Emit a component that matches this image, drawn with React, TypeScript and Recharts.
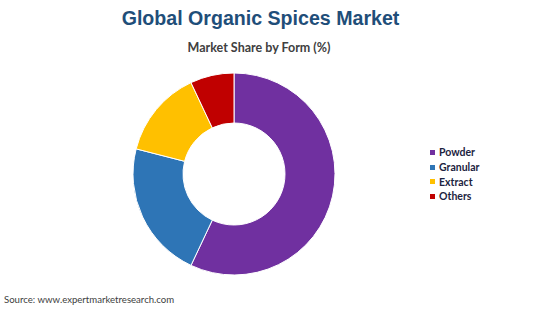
import { Cell, Pie, PieChart } from 'recharts';

const forms = ['Powder', 'Granular', 'Extract', 'Others'];
const shares = [57, 22, 14, 7];
const colors = ['#7030A0', '#2E75B6', '#FFC000', '#C00000'];

const data = forms.map((name, i) => ({ name, value: shares[i] }));

function LegendList() {
  return (
    <div
      style={{
        position: 'absolute',
        left: 430,
        top: 145,
        fontFamily: 'Lato, "Open Sans", sans-serif',
        fontWeight: 700,
        fontSize: 10.5,
        color: '#1c2340',
      }}
    >
      {forms.map((f, i) => (
        <div key={f} style={{ display: 'flex', alignItems: 'center', height: 14.7 }}>
          <span style={{ width: 5, height: 5, background: colors[i], marginRight: 4, display: 'inline-block' }} />
          {f}
        </div>
      ))}
    </div>
  );
}

export default function App() {
  return (
    <div style={{ position: 'absolute', left: 0, top: 0, width: 550, height: 309, background: '#fff' }}>
      <div
        style={{
          position: 'absolute',
          top: 7,
          width: 521,
          textAlign: 'center',
          fontFamily: '"Liberation Sans", Arial, sans-serif',
          fontWeight: 700,
          fontSize: 19.6,
          color: '#1F4E79',
        }}
      >
        Global Organic Spices Market
      </div>
      <div
        style={{
          position: 'absolute',
          top: 40,
          width: 518,
          textAlign: 'center',
          fontFamily: 'Lato, "Open Sans", sans-serif',
          fontWeight: 700,
          fontSize: 12.5,
          color: '#404040',
        }}
      >
        Market Share by Form (%)
      </div>
      <PieChart
        width={550}
        height={309}
        margin={{ top: 0, right: 0, bottom: 0, left: 0 }}
        style={{ position: 'absolute', left: 0, top: 0 }}
      >
        <Pie
          data={data}
          dataKey="value"
          nameKey="name"
          cx={234}
          cy={174}
          innerRadius={51}
          outerRadius={101}
          startAngle={90}
          endAngle={-270}
          stroke="#fff"
          strokeWidth={1}
          isAnimationActive={false}
        >
          {data.map((d, i) => (
            <Cell key={d.name} fill={colors[i]} />
          ))}
        </Pie>
      </PieChart>
      <LegendList />
      <div
        style={{
          position: 'absolute',
          left: 4,
          top: 294,
          fontFamily: 'Lato, "Open Sans", sans-serif',
          fontSize: 9.6,
          color: '#404040',
        }}
      >
        Source: www.expertmarketresearch.com
      </div>
    </div>
  );
}
